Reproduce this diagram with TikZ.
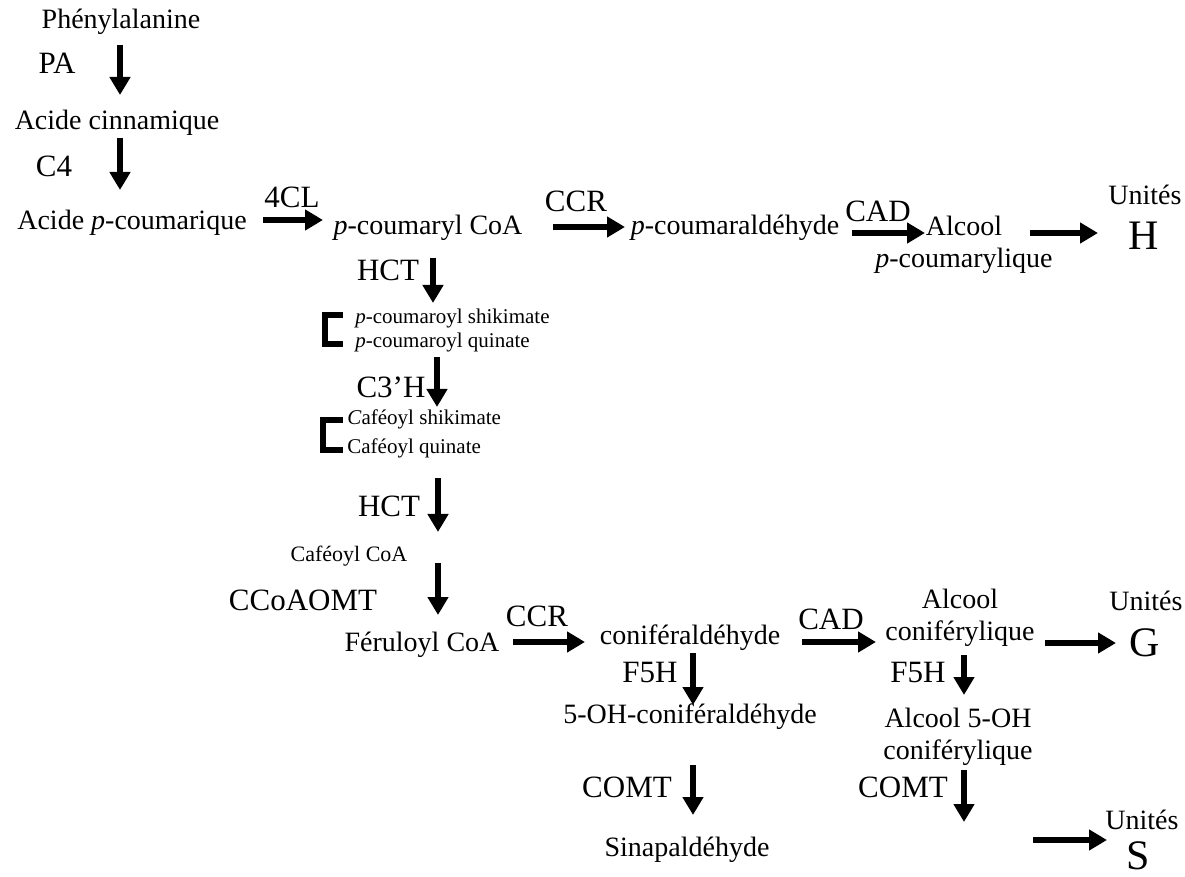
\documentclass[tikz,border=0pt]{standalone}
\usepackage{fontspec}
\setmainfont{Liberation Serif}
\usepackage{tikz}
\usetikzlibrary{arrows.meta}
\usetikzlibrary{positioning}

\begin{document}
\begin{tikzpicture}[x=0.5pt, y=-0.5pt,
				cmp/.style = {inner sep=0pt, align=center,
					font=\fontsize{14}{16}\selectfont},
				enz/.style = {inner sep=0pt,
					font=\fontsize{15.5}{17}\selectfont},
				petit/.style = {inner sep=0pt, anchor=west,
					font=\fontsize{10.5}{12}\selectfont},
				lettre/.style = {inner sep=0pt,
					font=\fontsize{21}{24}\selectfont},
				fleche/.style = {line width=3pt,
					-{Triangle[width=10pt,length=9pt]}},
				crochet/.style = {line width=3pt}]
				
				\useasboundingbox (0,0) rectangle (1185,877);
				
				% Phenylalanine -> acide p-coumarique
				\node[cmp] (phe) at (121,22) {Phénylalanine};
				\node[enz] (pa) at (57,63) {PA};
				\node[cmp] (cin) at (117,123) {Acide cinnamique};
				\node[enz] (c4) at (54,166) {C4};
				\node[cmp] (pcou) at (132,223) {Acide \textit{p}-coumarique};
				\coordinate (pa1) at (120,45); \coordinate (pa2) at (120,95);
				\coordinate (c41) at (120,138); \coordinate (c42) at (120,190);
				\draw[fleche] (pa1) -- (pa2);
				\draw[fleche] (c41) -- (c42);
				
				% Ligne H
				\node[enz] (cl4) at (292,197) {4CL};
				\node[cmp] (pcoa) at (428,228) {\textit{p}-coumaryl CoA};
				\node[enz] (ccr1) at (576,201) {CCR};
				\node[cmp] (pald) at (735,228) {\textit{p}-coumaraldéhyde};
				\node[enz] (cad1) at (878,211) {CAD};
				\node[cmp] (palc) at (964,245) {Alcool\\\textit{p}-coumarylique};
				\node[cmp] (uniH) at (1145,195) {Unités};
				\node[lettre] (H) at (1144,236) {H};
				\coordinate (cl41) at (263,220); \coordinate (cl42) at (323,220);
				\coordinate (ccr11) at (553,227); \coordinate (ccr12) at (625,227);
				\coordinate (cad11) at (852,233); \coordinate (cad12) at (925,233);
				\coordinate (h1) at (1030,233); \coordinate (h2) at (1098,233);
				\draw[fleche] (cl41) -- (cl42);
				\draw[fleche] (ccr11) -- (ccr12);
				\draw[fleche] (cad11) -- (cad12);
				\draw[fleche] (h1) -- (h2);
				
				% Esters shikimate / quinate
				\node[enz] (hct1) at (388,270) {HCT};
				\node[petit] (shik1) at (355,318) {\textit{p}-coumaroyl shikimate};
				\node[petit] (quin1) at (355,342) {\textit{p}-coumaroyl quinate};
				\node[enz] (c3h) at (391,387) {C3’H};
				\node[petit] (shik2) at (347,419) {\textit{C}aféoyl shikimate};
				\node[petit] (quin2) at (347,448) {Caféoyl quinate};
				\coordinate (hct11) at (433,258); \coordinate (hct12) at (433,303);
				\coordinate (c3h1) at (437,357); \coordinate (c3h2) at (437,407);
				\draw[fleche] (hct11) -- (hct12);
				\draw[fleche] (c3h1) -- (c3h2);
				\draw[crochet] (343,315) -- (325,315) -- (325,344) -- (343,344);
				\draw[crochet] (343,420) -- (323,420) -- (323,450) -- (343,450);
				
				% Cafeoyl CoA -> feruloyl CoA
				\node[enz] (hct2) at (389,506) {HCT};
				\node[cmp, font=\fontsize{11}{13}\selectfont] (cafcoa) at (349,556) {Caféoyl CoA};
				\node[enz] (ccoaomt) at (303,600) {CCoAOMT};
				\node[cmp] (fercoa) at (422,645) {Féruloyl CoA};
				\coordinate (hct21) at (438,478); \coordinate (hct22) at (438,532);
				\coordinate (omt1) at (438,563); \coordinate (omt2) at (438,615);
				\draw[fleche] (hct21) -- (hct22);
				\draw[fleche] (omt1) -- (omt2);
				
				% Ligne G
				\node[enz] (ccr2) at (537,616) {CCR};
				\node[cmp] (conald) at (690,638) {coniféraldéhyde};
				\node[enz] (cad2) at (831,619) {CAD};
				\node[cmp] (conalc) at (960,618) {Alcool\\coniférylique};
				\node[cmp] (uniG) at (1146,601) {Unités};
				\node[lettre] (G) at (1145,643) {G};
				\coordinate (ccr21) at (513,642); \coordinate (ccr22) at (585,642);
				\coordinate (cad21) at (802,642); \coordinate (cad22) at (876,642);
				\coordinate (g1) at (1045,643); \coordinate (g2) at (1116,643);
				\draw[fleche] (ccr21) -- (ccr22);
				\draw[fleche] (cad21) -- (cad22);
				\draw[fleche] (g1) -- (g2);
				
				% Ligne S
				\node[enz] (f5h1) at (650,673) {F5H};
				\node[enz] (f5h2) at (918,673) {F5H};
				\node[cmp] (ohald) at (690,717) {5-OH-coniféraldéhyde};
				\node[cmp] (ohalc) at (958,737) {Alcool 5-OH\\coniférylique};
				\node[enz] (comt1) at (627,787) {COMT};
				\node[enz] (comt2) at (903,787) {COMT};
				\node[cmp] (sinald) at (687,850) {Sinapaldéhyde};
				\node[cmp] (uniS) at (1142,820) {Unités};
				\node[lettre] (S) at (1138,856) {S};
				\coordinate (f5h11) at (693,653); \coordinate (f5h12) at (693,705);
				\coordinate (f5h21) at (964,655); \coordinate (f5h22) at (964,695);
				\coordinate (comt11) at (693,765); \coordinate (comt12) at (693,815);
				\coordinate (comt21) at (964,770); \coordinate (comt22) at (964,822);
				\coordinate (s1) at (1033,840); \coordinate (s2) at (1107,840);
				\draw[fleche] (f5h11) -- (f5h12);
				\draw[fleche] (f5h21) -- (f5h22);
				\draw[fleche] (comt11) -- (comt12);
				\draw[fleche] (comt21) -- (comt22);
				\draw[fleche] (s1) -- (s2);
				
			\end{tikzpicture}
\end{document}
